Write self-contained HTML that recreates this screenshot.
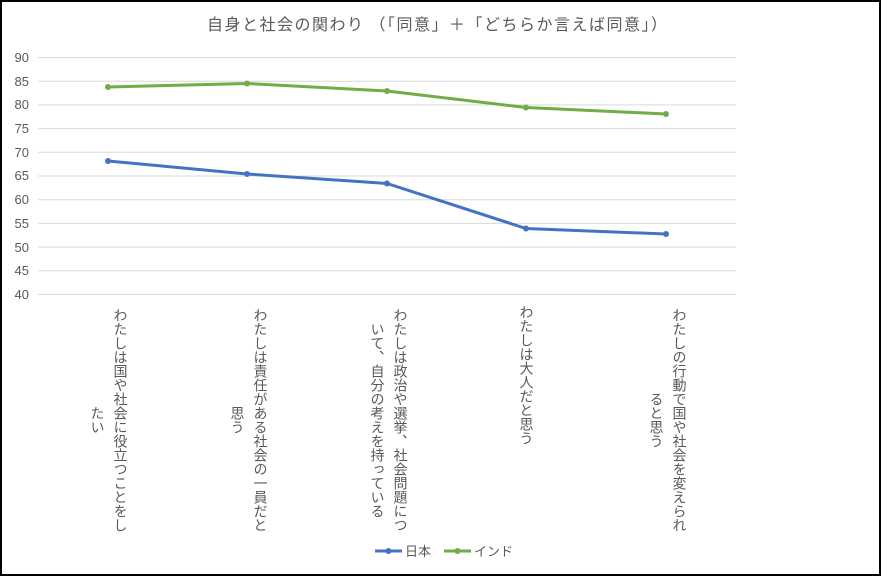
<!DOCTYPE html>
<html><head><meta charset="utf-8"><style>
body{margin:0;width:881px;height:576px;background:#fff;position:relative;overflow:hidden;font-family:"Liberation Sans","Noto Sans CJK JP",sans-serif;}
.frame{position:absolute;left:0;top:0;width:877px;height:572px;border:2px solid #000;}
.v{position:absolute;top:305px;height:230px;writing-mode:vertical-rl;text-align:center;font-size:14px;line-height:23px;color:#595959;white-space:nowrap;font-family:"Noto Sans CJK JP",sans-serif;}
</style></head><body>
<div class="frame"></div>
<svg width="881" height="576" style="position:absolute;left:0;top:0">
<text x="207" y="30" textLength="460" lengthAdjust="spacing" font-size="16" fill="#595959" font-family="Noto Sans CJK JP, sans-serif">自身と社会の関わり （「同意」＋「どちらか言えば同意」）</text>
<g stroke="#d9d9d9" stroke-width="1">
<line x1="38" x2="736" y1="57.5" y2="57.5"/><line x1="38" x2="736" y1="81.2" y2="81.2"/><line x1="38" x2="736" y1="104.9" y2="104.9"/><line x1="38" x2="736" y1="128.6" y2="128.6"/><line x1="38" x2="736" y1="152.3" y2="152.3"/><line x1="38" x2="736" y1="176" y2="176"/><line x1="38" x2="736" y1="199.7" y2="199.7"/><line x1="38" x2="736" y1="223.4" y2="223.4"/><line x1="38" x2="736" y1="247.1" y2="247.1"/><line x1="38" x2="736" y1="270.8" y2="270.8"/><line x1="38" x2="736" y1="294.5" y2="294.5"/>
</g>
<g font-size="13" fill="#595959" text-anchor="end" font-family="Liberation Sans, sans-serif">
<text x="29" y="62">90</text><text x="29" y="86">85</text><text x="29" y="109">80</text><text x="29" y="133">75</text><text x="29" y="157">70</text><text x="29" y="180">65</text><text x="29" y="204">60</text><text x="29" y="228">55</text><text x="29" y="252">50</text><text x="29" y="275">45</text><text x="29" y="299">40</text>
</g>
<polyline fill="none" stroke="#4472c4" stroke-width="3" points="108,161 247,174 387,183.5 526,228.5 666,234"/>
<g fill="#4472c4"><circle cx="108" cy="161" r="3"/><circle cx="247" cy="174" r="3"/><circle cx="387" cy="183.5" r="3"/><circle cx="526" cy="228.5" r="3"/><circle cx="666" cy="234" r="3"/></g>
<polyline fill="none" stroke="#70ad47" stroke-width="3" points="108,87 247,83.5 387,91 526,107.5 666,114"/>
<g fill="#70ad47"><circle cx="108" cy="87" r="3"/><circle cx="247" cy="83.5" r="3"/><circle cx="387" cy="91" r="3"/><circle cx="526" cy="107.5" r="3"/><circle cx="666" cy="114" r="3"/></g>
<line x1="375" x2="402" y1="551" y2="551" stroke="#4472c4" stroke-width="3"/><circle cx="388.5" cy="551" r="3" fill="#4472c4"/>
<text x="405" y="556" font-size="13" fill="#595959" font-family="Noto Sans CJK JP, sans-serif">日本</text>
<line x1="444" x2="471" y1="551" y2="551" stroke="#70ad47" stroke-width="3"/><circle cx="457.5" cy="551" r="3" fill="#70ad47"/>
<text x="474" y="556" font-size="13" fill="#595959" font-family="Noto Sans CJK JP, sans-serif">インド</text>
</svg>
<div class="v" style="left:85.5px;width:46px">わたしは国や社会に役立つことをし<br>たい</div>
<div class="v" style="left:225.5px;width:46px">わたしは責任がある社会の一員だと<br>思う</div>
<div class="v" style="left:365.5px;width:46px">わたしは政治や選挙、社会問題につ<br>いて、自分の考えを持っている</div>
<div class="v" style="left:514.5px;width:23px;text-align:start">わたしは大人だと思う</div>
<div class="v" style="left:644.5px;width:46px">わたしの行動で国や社会を変えられ<br>ると思う</div>
</body></html>
